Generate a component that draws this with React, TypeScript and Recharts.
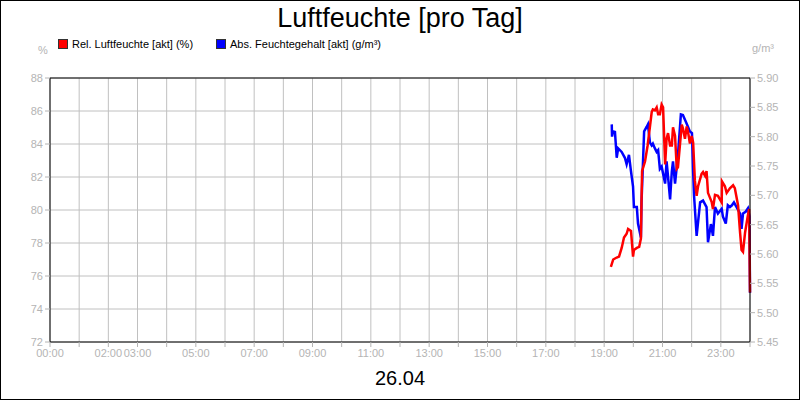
import React from 'react';
import { LineChart, Line, XAxis, YAxis, CartesianGrid, Legend, ReferenceLine } from 'recharts';

// Rel. Luftfeuchte (%) – time in decimal hours
const relHours = [
  19.23, 19.31, 19.43, 19.51, 19.6, 19.68, 19.77, 19.82, 19.92, 19.99, 20.02, 20.12, 20.2, 20.26, 20.28,
  20.3, 20.4, 20.49, 20.57, 20.63, 20.67, 20.74, 20.8, 20.85, 20.91, 20.97, 21.02, 21.09, 21.14, 21.19,
  21.26, 21.32, 21.36, 21.43, 21.49, 21.53, 21.66, 21.7, 21.77, 21.83, 21.87, 21.94, 22.0, 22.05, 22.11,
  22.17, 22.22, 22.34, 22.39, 22.46, 22.51, 22.56, 22.69, 22.73, 22.8, 22.9, 23.03, 23.04, 23.14, 23.2,
  23.31, 23.42, 23.48, 23.59, 23.66, 23.71, 23.76, 23.83, 23.92, 23.97, 24.0,
];
const relValues = [
  76.55, 77.0, 77.12, 77.18, 77.7, 78.33, 78.56, 78.85, 78.73, 77.18, 77.58, 77.7, 77.76, 78.27, 80.46,
  82.36, 82.94, 83.91, 85.06, 85.93, 86.1, 86.04, 86.22, 85.81, 85.81, 86.39, 86.22, 82.76, 84.32, 84.66,
  83.91, 83.91, 85.01, 84.49, 82.5, 82.59, 85.18, 84.95, 84.32, 85.06, 84.78, 84.03, 84.49, 84.09, 81.78,
  80.86, 81.44, 82.19, 82.3, 82.07, 82.36, 81.04, 80.46, 80.06, 80.92, 80.86, 80.46, 81.73, 81.44, 81.04,
  81.32, 81.5, 81.32, 80.29, 78.62, 77.58, 77.47, 78.62, 79.6, 80.06, 75.0,
];

// Abs. Feuchtegehalt (g/m³)
const absHours = [
  19.26, 19.27, 19.3, 19.37, 19.43, 19.48, 19.6, 19.71, 19.77, 19.85, 19.92, 19.99, 20.02, 20.12, 20.16,
  20.26, 20.28, 20.37, 20.46, 20.5, 20.57, 20.63, 20.67, 20.74, 20.8, 20.85, 20.91, 20.97, 21.02, 21.09,
  21.14, 21.19, 21.26, 21.32, 21.36, 21.43, 21.53, 21.63, 21.7, 21.83, 21.94, 22.01, 22.05, 22.08, 22.17,
  22.29, 22.39, 22.51, 22.56, 22.66, 22.73, 22.8, 22.9, 23.03, 23.07, 23.17, 23.24, 23.31, 23.38, 23.45,
  23.54, 23.66, 23.71, 23.76, 23.85, 23.93, 23.98, 24.0,
];
const absValues = [
  5.821, 5.8, 5.809, 5.808, 5.764, 5.78, 5.774, 5.764, 5.753, 5.769, 5.741, 5.715, 5.68, 5.68, 5.652,
  5.628, 5.688, 5.809, 5.817, 5.821, 5.79, 5.785, 5.788, 5.78, 5.774, 5.777, 5.745, 5.749, 5.737, 5.72,
  5.758, 5.732, 5.693, 5.741, 5.758, 5.72, 5.769, 5.838, 5.837, 5.822, 5.809, 5.806, 5.741, 5.701, 5.631,
  5.688, 5.691, 5.68, 5.62, 5.651, 5.631, 5.68, 5.669, 5.677, 5.664, 5.652, 5.683, 5.68, 5.683, 5.688,
  5.68, 5.669, 5.643, 5.669, 5.672, 5.678, 5.664, 5.534,
];

const hourTicks = Array.from({ length: 25 }, (_, i) => i);
const labelledHours = [0, 2, 3, 5, 7, 9, 11, 13, 15, 17, 19, 21, 23];
const leftTicks = [72, 74, 76, 78, 80, 82, 84, 86, 88];
const rightTicks = [5.45, 5.5, 5.55, 5.6, 5.65, 5.7, 5.75, 5.8, 5.85, 5.9];

const relData = relHours.map((t, i) => ({ t, rel: relValues[i] }));
const absData = absHours.map((t, i) => ({ t, abs: absValues[i] }));

const FONT = '"Liberation Sans", Arial, sans-serif';
const GREY = '#b4b4b4';

function fmtHour(h: number) {
  if (!labelledHours.includes(h)) return '';
  return String(h).padStart(2, '0') + ':00';
}

function LegendBox() {
  const items = [
    { label: 'Rel. Luftfeuchte [akt] (%)', color: '#ff0000', left: 58 },
    { label: 'Abs. Feuchtegehalt [akt] (g/m³)', color: '#0000ff', left: 216 },
  ];
  return (
    <div style={{ position: 'relative', height: 14, fontFamily: FONT, fontSize: 11 }}>
      {items.map((it) => (
        <div key={it.label} style={{ position: 'absolute', left: it.left, top: 0, display: 'flex', alignItems: 'center' }}>
          <span style={{ width: 8, height: 8, background: it.color, border: '1px solid #333', marginRight: 4 }} />
          <span>{it.label}</span>
        </div>
      ))}
    </div>
  );
}

export default function App() {
  return (
    <div style={{ position: 'absolute', left: 0, top: 0, width: 800, height: 400, background: '#fff' }}>
      <div style={{ position: 'absolute', inset: 0, border: '1px solid #000', boxSizing: 'border-box', pointerEvents: 'none' }} />
      <div style={{ position: 'absolute', top: 3, left: 0, width: 800, textAlign: 'center', fontFamily: FONT, fontSize: 27, lineHeight: '31px' }}>
        Luftfeuchte [pro Tag]
      </div>
      <div style={{ position: 'absolute', top: 44, left: 38, fontFamily: FONT, fontSize: 11, color: GREY }}>%</div>
      <div style={{ position: 'absolute', top: 42, left: 752, fontFamily: FONT, fontSize: 11, color: GREY }}>g/m³</div>
      <div style={{ position: 'absolute', top: 366, left: 0, width: 800, textAlign: 'center', fontFamily: FONT, fontSize: 20, lineHeight: '24px' }}>
        26.04
      </div>
      <LineChart width={800} height={400} margin={{ top: 64, right: 0, bottom: 0, left: 0 }} style={{ fontFamily: FONT }}>
        <CartesianGrid yAxisId="left" stroke="#c0c0c0" strokeWidth={1} />
        <XAxis
          dataKey="t"
          type="number"
          domain={[0, 24]}
          ticks={hourTicks}
          tickFormatter={fmtHour}
          interval={0}
          height={58}
          allowDuplicatedCategory={false}
          tick={{ fill: GREY, fontSize: 11 }}
          tickLine={{ stroke: GREY }}
          tickSize={5}
          axisLine={{ stroke: '#000' }}
        />
        <YAxis
          yAxisId="left"
          domain={[72, 88]}
          ticks={leftTicks}
          interval={0}
          width={50}
          tick={{ fill: GREY, fontSize: 11 }}
          tickLine={{ stroke: GREY }}
          tickSize={5}
          axisLine={{ stroke: '#000' }}
        />
        <YAxis
          yAxisId="right"
          orientation="right"
          domain={[5.45, 5.9]}
          ticks={rightTicks}
          interval={0}
          width={50}
          tickFormatter={(v: number) => v.toFixed(2)}
          tick={{ fill: GREY, fontSize: 11 }}
          tickLine={{ stroke: GREY }}
          tickSize={5}
          axisLine={{ stroke: '#000' }}
        />
        <ReferenceLine yAxisId="left" y={88} stroke="#000" />
        <Legend verticalAlign="top" wrapperStyle={{ top: 38, left: 0, width: 800 }} content={() => <LegendBox />} />
        <Line yAxisId="right" data={absData} dataKey="abs" type="linear" stroke="#0000ff" strokeWidth={2.5} dot={false} isAnimationActive={false} />
        <Line yAxisId="left" data={relData} dataKey="rel" type="linear" stroke="#ff0000" strokeWidth={2.5} dot={false} isAnimationActive={false} />
      </LineChart>
    </div>
  );
}
